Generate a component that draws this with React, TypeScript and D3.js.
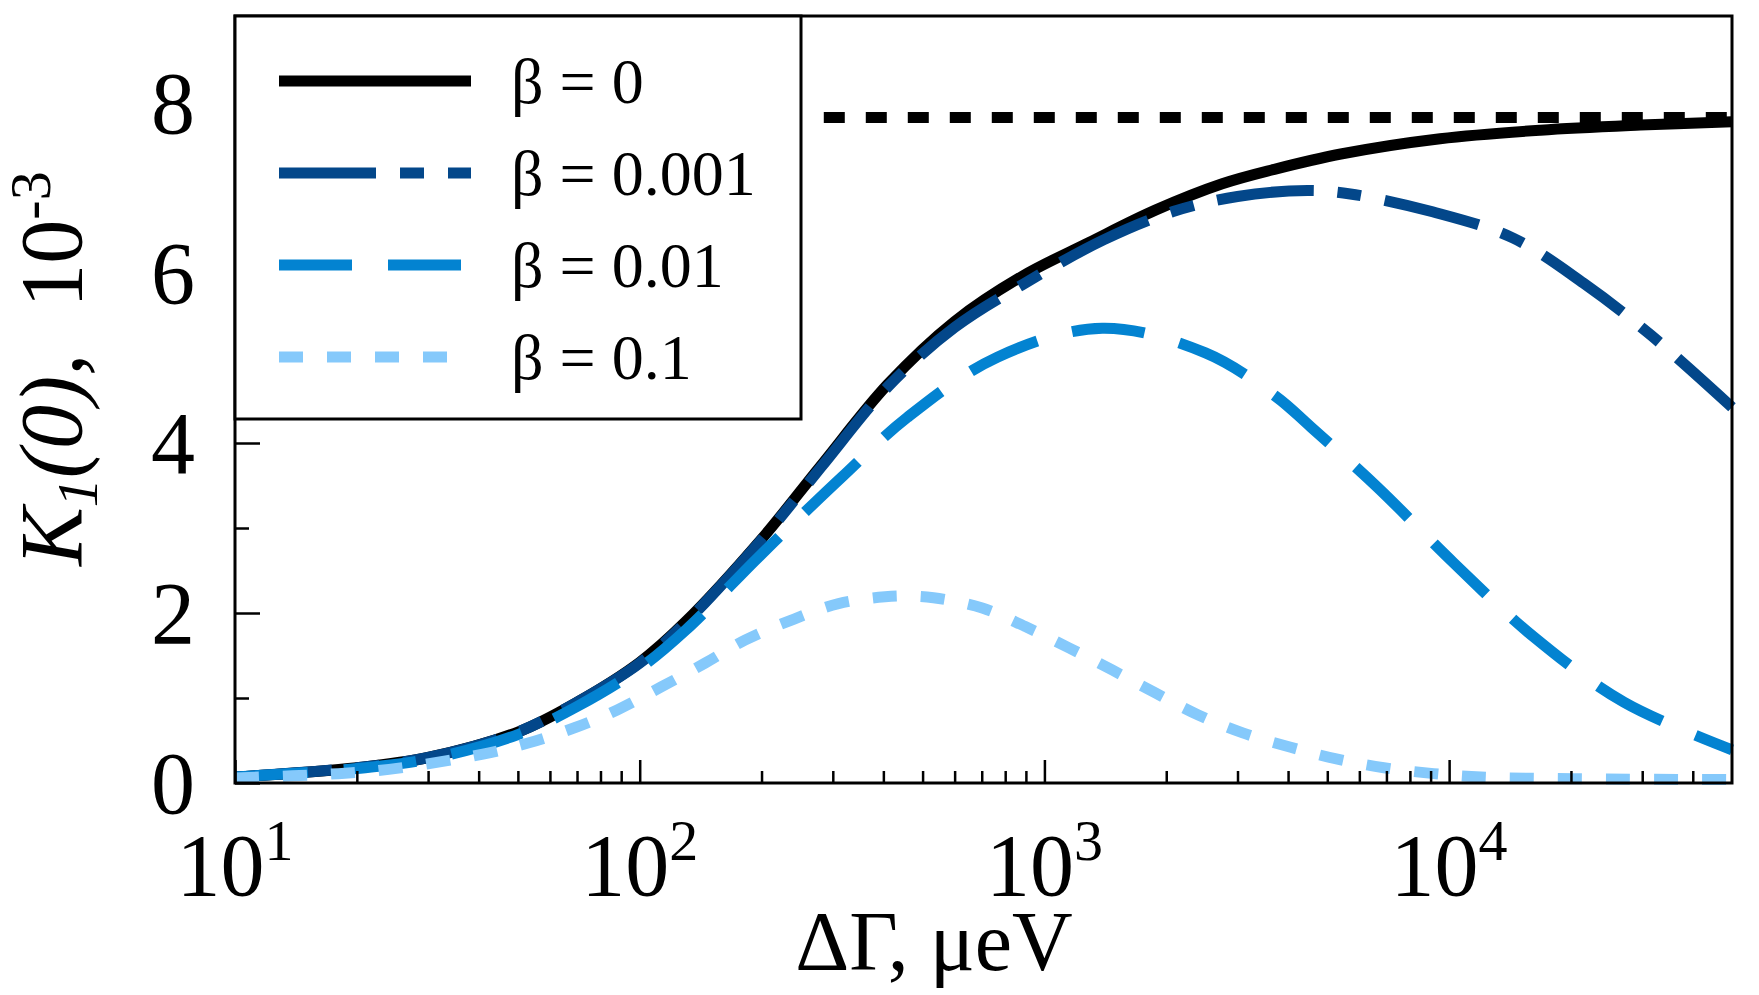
import React, { useEffect, useRef } from "react";
import * as d3 from "d3";

const W = 1759;
const H = 995;
const frame = { left: 235, right: 1732, top: 16, bottom: 783 };

// ΔΓ (µeV) samples and K1(0) (units of 1e-3)
const xBeta0 = [10, 20, 30, 50, 70, 100, 130, 200, 280, 410, 600, 880, 1290, 1880, 2750, 3700, 5400, 9500, 16800, 29700, 50000];
const yBeta0 = [0.07, 0.18, 0.3, 0.6, 0.95, 1.42, 1.9, 2.87, 3.73, 4.69, 5.43, 5.96, 6.36, 6.74, 7.05, 7.22, 7.4, 7.58, 7.68, 7.74, 7.78];

const xBeta0001 = [10, 20, 30, 50, 70, 100, 130, 200, 280, 410, 600, 880, 1400, 2070, 3000, 4470, 5700, 9100, 14400, 21500, 31500, 50000];
const yBeta0001 = [0.07, 0.18, 0.3, 0.6, 0.95, 1.41, 1.89, 2.86, 3.71, 4.66, 5.36, 5.86, 6.39, 6.72, 6.9, 6.97, 6.93, 6.72, 6.41, 5.88, 5.27, 4.42];

const xBeta001 = [10, 20, 30, 50, 70, 100, 130, 193, 233, 316, 458, 765, 1390, 2500, 3725, 4550, 6650, 10260, 16170, 27060, 50000];
const yBeta001 = [0.07, 0.17, 0.28, 0.57, 0.9, 1.35, 1.8, 2.62, 3.0, 3.6, 4.3, 5.01, 5.35, 5.06, 4.55, 4.19, 3.48, 2.59, 1.72, 0.95, 0.39];

const xBeta01 = [10, 18, 24, 41, 53, 69, 88, 113, 145, 182, 238, 310, 404, 461, 532, 702, 897, 1150, 1470, 1880, 2400, 3090, 4060, 5300, 6900, 9160, 12000, 20400, 50000];
const yBeta01 = [0.06, 0.11, 0.16, 0.34, 0.47, 0.65, 0.86, 1.13, 1.41, 1.68, 1.92, 2.11, 2.19, 2.2, 2.18, 2.06, 1.84, 1.59, 1.33, 1.06, 0.8, 0.59, 0.42, 0.28, 0.18, 0.11, 0.07, 0.05, 0.04];

const asymptoteValue = 7.83;
const asymptoteFrom = 285;

const seriesLabels = ["β = 0", "β = 0.001", "β = 0.01", "β = 0.1"];
const seriesColors = ["#000000", "#03478A", "#0383D1", "#85C9FB"];
const seriesDash = ["none", "97 24 24 24", "73 36", "24 24"];

const yMajor = [0, 2, 4, 6, 8];
const yMinor = [1, 3, 5, 7];
const xMajor = [10, 100, 1000, 10000];
const xExponents = ["1", "2", "3", "4"];
const xMinor = [20, 30, 40, 50, 60, 70, 80, 90, 200, 300, 400, 500, 600, 700, 800, 900, 2000, 3000, 4000, 5000, 6000, 7000, 8000, 9000, 20000, 30000, 40000];

const serif = "'Liberation Serif', 'Times New Roman', serif";

export default function App() {
  const svgRef = useRef<SVGSVGElement>(null);

  useEffect(() => {
    const svg = d3.select(svgRef.current);
    svg.selectAll("*").remove();

    const x = d3.scaleLog().domain([10, 50000]).range([frame.left, frame.right]);
    const y = d3.scaleLinear().domain([0, 9]).range([frame.bottom, 18]);

    const series = [
      { xs: xBeta0, ys: yBeta0 },
      { xs: xBeta0001, ys: yBeta0001 },
      { xs: xBeta001, ys: yBeta001 },
      { xs: xBeta01, ys: yBeta01 },
    ].map((s, i) => ({
      points: s.xs.map((v, j) => [v, s.ys[j]] as [number, number]),
      label: seriesLabels[i],
      color: seriesColors[i],
      dash: seriesDash[i],
    }));

    const lineGen = d3
      .line<[number, number]>()
      .x((d) => x(d[0]))
      .y((d) => y(d[1]))
      .curve(d3.curveCatmullRom.alpha(0.5));

    const plot = svg.append("g");

    plot
      .append("line")
      .attr("x1", x(asymptoteFrom))
      .attr("x2", x(50000))
      .attr("y1", y(asymptoteValue))
      .attr("y2", y(asymptoteValue))
      .attr("stroke", "#000")
      .attr("stroke-width", 11)
      .attr("stroke-dasharray", "21 21");

    series.forEach((s) => {
      plot
        .append("path")
        .datum(s.points)
        .attr("d", lineGen)
        .attr("fill", "none")
        .attr("stroke", s.color)
        .attr("stroke-width", 11)
        .attr("stroke-dasharray", s.dash);
    });

    // ticks pointing inward
    const axes = svg.append("g");
    const xMaj = axes
      .append("g")
      .attr("transform", `translate(0,${frame.bottom})`)
      .call(d3.axisBottom(x).tickValues(xMajor).tickSize(-23).tickFormat(() => ""));
    const xMin = axes
      .append("g")
      .attr("transform", `translate(0,${frame.bottom})`)
      .call(d3.axisBottom(x).tickValues(xMinor).tickSize(-12).tickFormat(() => ""));
    const yMaj = axes
      .append("g")
      .attr("transform", `translate(${frame.left},0)`)
      .call(d3.axisLeft(y).tickValues(yMajor).tickSize(-25).tickFormat(() => ""));
    const yMin = axes
      .append("g")
      .attr("transform", `translate(${frame.left},0)`)
      .call(d3.axisLeft(y).tickValues(yMinor).tickSize(-14).tickFormat(() => ""));
    [xMaj, xMin, yMaj, yMin].forEach((g) => {
      g.select(".domain").remove();
      g.selectAll("line").attr("stroke", "#000").attr("stroke-width", 2.5);
    });

    svg
      .append("rect")
      .attr("x", frame.left)
      .attr("y", frame.top)
      .attr("width", frame.right - frame.left)
      .attr("height", frame.bottom - frame.top)
      .attr("fill", "none")
      .attr("stroke", "#000")
      .attr("stroke-width", 3);

    // y tick labels
    svg
      .append("g")
      .selectAll("text")
      .data(yMajor)
      .join("text")
      .attr("x", 195)
      .attr("y", (d) => y(d))
      .attr("dy", "0.34em")
      .attr("text-anchor", "end")
      .attr("font-family", serif)
      .attr("font-size", 88)
      .text((d) => d);

    // x tick labels 10^n
    const xl = svg
      .append("g")
      .selectAll("text")
      .data(xMajor)
      .join("text")
      .attr("x", (d) => x(d))
      .attr("y", 895)
      .attr("text-anchor", "middle")
      .attr("font-family", serif)
      .attr("font-size", 88);
    xl.append("tspan").text("10");
    xl.append("tspan")
      .attr("dy", -35)
      .attr("font-size", 58)
      .text((d, i) => xExponents[i]);

    // axis titles
    svg
      .append("text")
      .attr("x", 934)
      .attr("y", 970)
      .attr("text-anchor", "middle")
      .attr("font-family", serif)
      .attr("font-size", 84)
      .text("ΔΓ, μeV");

    const yt = svg
      .append("text")
      .attr("transform", "rotate(-90)")
      .attr("x", -566)
      .attr("y", 81)
      .attr("font-family", serif)
      .attr("font-size", 88);
    yt.append("tspan").attr("font-style", "italic").text("K");
    yt.append("tspan").attr("font-style", "italic").attr("font-size", 58).attr("dy", 16).text("1");
    yt.append("tspan").attr("font-style", "italic").attr("dy", -16).text("(0),");
    yt.append("tspan").attr("dx", 46).text("10");
    yt.append("tspan").attr("font-size", 58).attr("dy", -31).text("-3");

    // legend
    const lg = svg.append("g");
    lg.append("rect")
      .attr("x", frame.left)
      .attr("y", frame.top)
      .attr("width", 801 - frame.left)
      .attr("height", 419 - frame.top)
      .attr("fill", "#fff")
      .attr("stroke", "#000")
      .attr("stroke-width", 3);
    series.forEach((s, i) => {
      const cy = 81 + i * 92;
      lg.append("line")
        .attr("x1", 279)
        .attr("x2", 471)
        .attr("y1", cy)
        .attr("y2", cy)
        .attr("stroke", s.color)
        .attr("stroke-width", 11)
        .attr("stroke-dasharray", s.dash);
      lg.append("text")
        .attr("x", 511)
        .attr("y", cy + 22)
        .attr("font-family", serif)
        .attr("font-size", 64)
        .text(s.label);
    });
  }, []);

  return (
    <svg
      ref={svgRef}
      width={W}
      height={H}
      style={{ position: "absolute", left: 0, top: 0, background: "#fff" }}
    />
  );
}
